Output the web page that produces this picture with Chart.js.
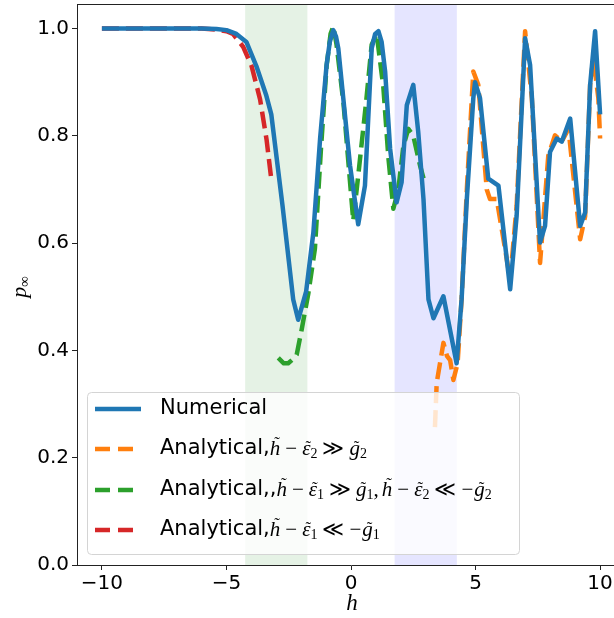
<!DOCTYPE html>
<html><head><meta charset="utf-8">
<script src="https://cdn.jsdelivr.net/npm/chart.js@4/dist/chart.umd.min.js"></script>
<style>html,body{margin:0;padding:0;overflow:hidden;background:#fff}#wrap{width:640px;height:618px}</style>
</head><body><div id="wrap"><canvas id="c" width="640" height="618"></canvas></div>
<script>
// ---- data ----
const numH = [-10,-9,-8,-7,-6,-5.4,-5.0,-4.6,-4.2,-3.8,-3.4,-3.2,-2.75,-2.32,-2.12,-1.8,-1.51,-1.24,-0.98,-0.85,-0.71,-0.6,-0.51,-0.31,-0.04,0.29,0.56,0.83,0.97,1.1,1.23,1.37,1.57,1.83,2.03,2.24,2.5,2.7,2.91,3.11,3.31,3.71,4.24,4.44,4.65,4.91,4.98,5.18,5.51,5.92,6.39,6.65,6.99,7.19,7.59,7.79,7.99,8.26,8.46,8.8,9.2,9.4,9.6,9.8,10.0];
const numP = [1,1,1,1,1,0.999,0.997,0.99,0.975,0.93,0.875,0.84,0.67,0.495,0.457,0.51,0.62,0.795,0.932,0.975,0.997,0.985,0.963,0.87,0.745,0.635,0.707,0.963,0.99,0.995,0.975,0.92,0.776,0.676,0.713,0.857,0.895,0.807,0.682,0.495,0.46,0.501,0.376,0.495,0.682,0.87,0.90,0.87,0.72,0.707,0.514,0.651,0.982,0.932,0.601,0.632,0.77,0.795,0.789,0.832,0.632,0.657,0.895,0.995,0.84];

const orangeH = [3.37,3.44,3.71,3.85,3.98,4.11,4.28,4.44,4.65,4.91,5.11,5.45,5.58,5.85,6.39,6.65,6.99,7.26,7.59,7.92,8.19,8.46,8.73,9.2,9.4,9.6,9.73,9.93,10.0];
const orangeP = [0.257,0.339,0.414,0.39,0.382,0.345,0.376,0.495,0.70,0.92,0.895,0.70,0.682,0.682,0.532,0.67,0.995,0.87,0.563,0.763,0.801,0.789,0.813,0.607,0.65,0.895,0.945,0.87,0.795];

const greenH = [-2.92,-2.7,-2.52,-2.3,-2.18,-1.98,-1.71,-1.45,-1.2,-0.98,-0.82,-0.71,-0.58,-0.3,-0.05,0.09,0.3,0.6,0.83,1.03,1.3,1.5,1.7,1.9,2.1,2.3,2.5,2.77,2.95];
const greenP = [0.386,0.376,0.376,0.385,0.392,0.439,0.507,0.589,0.78,0.93,0.99,1.004,0.97,0.86,0.72,0.642,0.73,0.86,0.97,0.99,0.89,0.76,0.664,0.70,0.78,0.813,0.80,0.745,0.714];

const redH = [-10,-8,-6,-5.4,-5.0,-4.74,-4.33,-3.99,-3.65,-3.39,-3.19];
const redP = [1,1,1,0.998,0.995,0.99,0.966,0.93,0.868,0.793,0.715];

const xTicks = [-10,-5,0,5,10];
const yTicks = [0,0.2,0.4,0.6,0.8,1.0];
const shadeGreen = [-4.25,-1.75];
const shadeBlue = [1.75,4.25];

const seriesNames = ['Numerical','Analytical,','Analytical,,','Analytical,'];
const colors = ['#1f77b4','#ff7f0e','#2ca02c','#d62728'];

const zip = (a,b)=>a.map((v,i)=>({x:v,y:b[i]}));

const SERIF = '"Liberation Serif", "DejaVu Serif", serif';
const SANS = '"DejaVu Sans", sans-serif';

const shadePlugin = {
  id:'shade',
  beforeDatasetsDraw(chart){
    const {ctx, chartArea:a, scales:{x}} = chart;
    ctx.save();
    ctx.fillStyle='rgba(0,128,0,0.1)';
    let l=x.getPixelForValue(shadeGreen[0]), r=x.getPixelForValue(shadeGreen[1]);
    ctx.fillRect(l,a.top,r-l,a.bottom-a.top);
    ctx.fillStyle='rgba(0,0,255,0.1)';
    l=x.getPixelForValue(shadeBlue[0]); r=x.getPixelForValue(shadeBlue[1]);
    ctx.fillRect(l,a.top,r-l,a.bottom-a.top);
    ctx.restore();
  }
};

function drawRich(ctx, x, y, segs){
  for(const s of segs){
    ctx.font = s.f;
    x += (s.pre||0);
    ctx.fillText(s.t, x, y + (s.dy||0));
    const w = ctx.measureText(s.t).width;
    if(s.tilde!==undefined){
      ctx.save();
      ctx.font = '17px ' + SERIF;
      ctx.textAlign='center';
      ctx.fillText('\u02DC', x + w/2 + 2, y + s.tilde);
      ctx.restore();
    }
    x += w + (s.sp||0);
  }
}

const M = 'italic 21px ' + SERIF;
const R = '21px ' + SERIF;
const SUB = '14px ' + SERIF;
const T = '21px ' + SANS;

const overlayPlugin = {
  id:'overlay',
  afterDraw(chart){
    const {ctx, chartArea:a} = chart;
    ctx.save();
    ctx.strokeStyle='#222'; ctx.lineWidth=1;
    ctx.beginPath(); ctx.moveTo(a.left, a.top+0.5); ctx.lineTo(a.right, a.top+0.5); ctx.stroke();

    const bx=87, by=392, bw=432, bh=162, rr=4;
    ctx.beginPath();
    ctx.roundRect(bx+0.5,by+0.5,bw,bh,rr);
    ctx.fillStyle='rgba(255,255,255,0.8)';
    ctx.fill();
    ctx.strokeStyle='#d4d4d4'; ctx.lineWidth=1; ctx.stroke();

    const rows=[409,449,490,530];
    for(let i=0;i<4;i++){
      ctx.beginPath();
      ctx.strokeStyle=colors[i]; ctx.lineWidth=4.5; ctx.lineCap='butt';
      ctx.setLineDash(i===0?[]:[15,8]);
      ctx.moveTo(95,rows[i]); ctx.lineTo(141,rows[i]); ctx.stroke();
    }
    ctx.setLineDash([]);
    ctx.fillStyle='#000'; ctx.textBaseline='middle'; ctx.textAlign='left';
    ctx.font=T; ctx.fillText(seriesNames[0],160,rows[0]);
    const H = {t:'h',f:M,tilde:-5};
    const E = {t:'\u03B5',f:M,tilde:-1};
    const G = {t:'g',f:M,tilde:-1};
    const S = d=>({t:d,f:SUB,dy:5});
    const OP = c=>({t:c,f:R,pre:5,sp:5});
    drawRich(ctx,160,rows[1],[
      {t:seriesNames[1],f:T}, H, OP('\u2212'), E, S('2'), OP('\u226B'), G, S('2')
    ]);
    drawRich(ctx,160,rows[2],[
      {t:seriesNames[2],f:T}, H, OP('\u2212'), E, S('1'), OP('\u226B'), G, S('1'), {t:',',f:R,sp:3},
      H, OP('\u2212'), E, S('2'), OP('\u226A'), {t:'\u2212',f:R,sp:1}, G, S('2')
    ]);
    drawRich(ctx,160,rows[3],[
      {t:seriesNames[3],f:T}, H, OP('\u2212'), E, S('1'), OP('\u226A'), {t:'\u2212',f:R,sp:1}, G, S('1')
    ]);

    ctx.font='italic 23px '+SERIF; ctx.textAlign='center';
    ctx.fillText('h', 352, 604);
    ctx.save();
    ctx.translate(20,287); ctx.rotate(-Math.PI/2);
    ctx.font='italic 22px '+SERIF; ctx.textAlign='left';
    const pw = ctx.measureText('p').width;
    ctx.font='15px '+SERIF;
    const iw = ctx.measureText('\u221E').width;
    let sx = -(pw+iw)/2;
    ctx.font='italic 22px '+SERIF; ctx.fillText('p', sx, 0);
    ctx.font='15px '+SERIF; ctx.fillText('\u221E', sx+pw, 5);
    ctx.restore();
    ctx.restore();
  }
};

const mk = (label,h,p,c,dash)=>({label, data:zip(h,p), borderColor:c, backgroundColor:c, borderWidth:4.5,
  borderDash:dash, pointRadius:0, tension:0, fill:false, borderCapStyle:'butt', borderJoinStyle:'round'});

new Chart(document.getElementById('c'), {
  type:'line',
  data:{datasets:[
    mk('Numerical',numH,numP,colors[0],[]),
    mk('Analytical orange',orangeH,orangeP,colors[1],[17,7]),
    mk('Analytical green',greenH,greenP,colors[2],[17,7]),
    mk('Analytical red',redH,redP,colors[3],[17,7])
  ]},
  options:{
    responsive:false, animation:false, devicePixelRatio:1,
    layout:{padding:{top:4,right:15,left:0,bottom:0}},
    plugins:{legend:{display:false},tooltip:{enabled:false}},
    scales:{
      x:{type:'linear',min:-11,max:11,
        afterBuildTicks(s){s.ticks=xTicks.map(v=>({value:v}));},
        afterFit(s){s.height=53; s.paddingLeft=0; s.paddingRight=0;},
        grid:{drawOnChartArea:false,drawTicks:true,tickLength:5,tickWidth:1,tickColor:'#222'},
        border:{display:true,color:'#222',width:1},
        ticks:{font:{family:'DejaVu Sans',size:20},color:'#000',padding:2,maxRotation:0,autoSkip:false,
          callback:v=>(v<0?'\u2212'+Math.abs(v):String(v))}
      },
      y:{min:0,max:1.0457,
        afterBuildTicks(s){s.ticks=yTicks.map(v=>({value:v}));},
        afterFit(s){s.width=77; s.paddingTop=0; s.paddingBottom=0;},
        grid:{drawOnChartArea:false,drawTicks:true,tickLength:5,tickWidth:1,tickColor:'#222'},
        border:{display:true,color:'#222',width:1},
        ticks:{font:{family:'DejaVu Sans',size:20},color:'#000',padding:3,autoSkip:false,
          callback:v=>Number(v).toFixed(1)}
      }
    }
  },
  plugins:[shadePlugin,overlayPlugin]
});
</script>
</body></html>
